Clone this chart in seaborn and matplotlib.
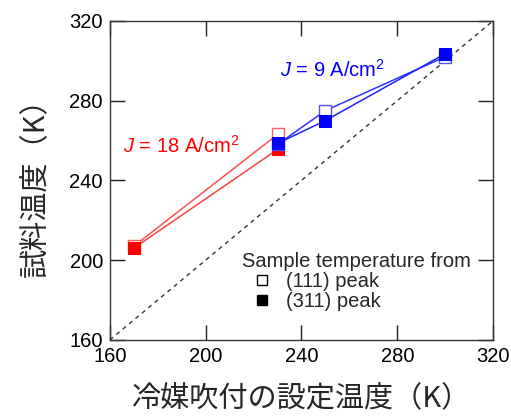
import matplotlib
matplotlib.use("Agg")
import matplotlib.pyplot as plt
from matplotlib.lines import Line2D
import seaborn as sns
import pandas as pd

# data
red_x = [170, 230]
red_111 = [207, 263]
red_311 = [206, 255.5]
blue_x = [230, 250, 300]
blue_111 = [258, 275, 302]
blue_311 = [258.5, 270, 303.5]
ticks = [160, 200, 240, 280, 320]
xlabel = "冷媒吹付の設定温度（K）"
ylabel = "試料温度（K）"
label_red = r"$J$ = 18 A/cm$^2$"
label_blue = r"$J$ = 9 A/cm$^2$"

sns.set_style("ticks")
plt.rcParams['font.family'] = ['Liberation Sans', 'Noto Sans CJK JP', 'DejaVu Sans']
plt.rcParams['mathtext.fontset'] = 'custom'
plt.rcParams['mathtext.it'] = 'Liberation Sans:italic'
plt.rcParams['mathtext.rm'] = 'Liberation Sans'

fig = plt.figure(figsize=(5.11, 4.17), dpi=100)
ax = fig.add_axes([0.215, 0.185, 0.75, 0.765])

# diagonal
sns.lineplot(x=ticks, y=ticks, ax=ax, color='#333333', lw=1, ls=(0, (3, 3)))

RED = '#ff0000'
BLUE = '#0000ff'
ms = 8
sns.lineplot(x=red_x, y=red_111, ax=ax, color='#ff5050', lw=1.1, marker='s', ms=ms,
             mfc='white', mec='#ff6060', mew=1.0)
sns.lineplot(x=red_x, y=red_311, ax=ax, color='#ff4040', lw=1.1, marker='s', ms=ms,
             mfc=RED, mec=RED)
sns.lineplot(x=blue_x, y=blue_111, ax=ax, color='#3030ff', lw=1.1, marker='s', ms=ms,
             mfc='white', mec='#5050ff', mew=1.0)
sns.lineplot(x=blue_x, y=blue_311, ax=ax, color='#2020ff', lw=1.1, marker='s', ms=ms,
             mfc=BLUE, mec=BLUE)

ax.set_xlim(160, 320)
ax.set_ylim(160, 320)
ax.set_xticks(ticks)
ax.set_yticks(ticks)
ax.tick_params(direction='in', length=11, width=1, labelsize=14.5, top=True, right=True,
               colors='#222222', labelcolor='black', pad=5)
for s in ax.spines.values():
    s.set_linewidth(1)
    s.set_color('#333333')

ax.set_xlabel(xlabel, fontsize=21, family=['Noto Sans CJK JP'], labelpad=13)
ax.set_ylabel(ylabel, fontsize=21, family=['Noto Sans CJK JP'], labelpad=13)

ax.text(231, 292, label_blue, color=BLUE, fontsize=14.5)
ax.text(165.5, 254, label_red, color=RED, fontsize=14.5)

handles = [Line2D([], [], marker='s', ls='none', color='black', mfc='white', ms=7, mew=1),
           Line2D([], [], marker='s', ls='none', color='black', ms=7)]
leg = ax.legend(handles, ["(111) peak", "(311) peak"], title="Sample temperature from",
                frameon=False, fontsize=14.5, title_fontsize=14.5, loc='upper left',
                bbox_to_anchor=(0.345, 0.275), handletextpad=0.2, borderpad=0,
                labelspacing=0.05, borderaxespad=0, handlelength=2.0)
leg._legend_box.align = "left"

fig.savefig("out.png", dpi=100)
